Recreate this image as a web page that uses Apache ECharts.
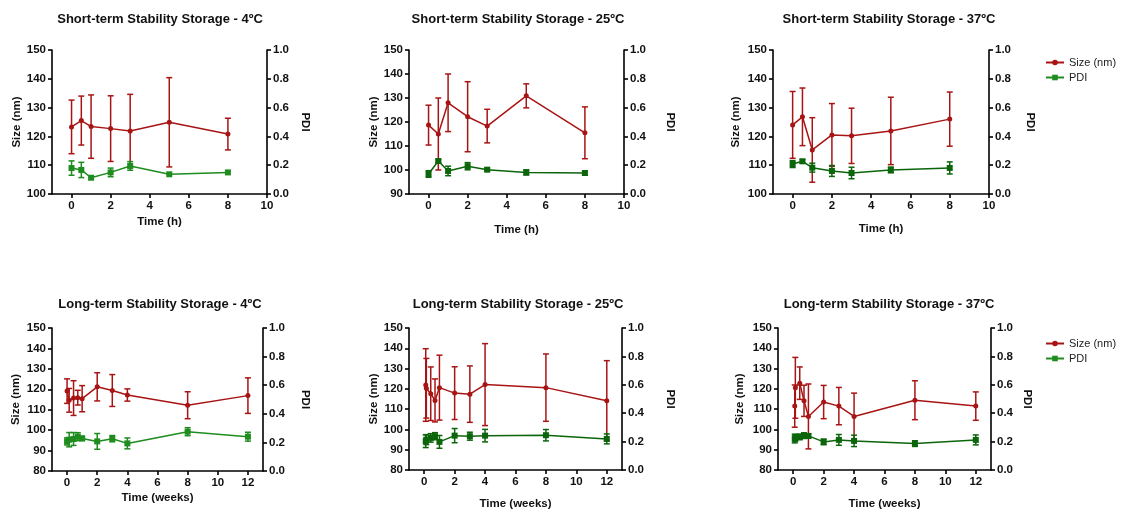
<!DOCTYPE html>
<html><head><meta charset="utf-8">
<script src="https://cdn.jsdelivr.net/npm/echarts@6/dist/echarts.min.js"></script>
<style>html,body{margin:0;padding:0;background:#fff}#c{width:1121px;height:511px}</style>
</head><body><div id="c"></div>
<script>
// ---------- DATA ----------
const titles = [
  'Short-term Stability Storage - 4ºC', 'Short-term Stability Storage - 25ºC', 'Short-term Stability Storage - 37ºC',
  'Long-term Stability Storage - 4ºC', 'Long-term Stability Storage - 25ºC', 'Long-term Stability Storage - 37ºC'
];
const shortTicks = [0, 2, 4, 6, 8, 10];
const longTicks = [0, 2, 4, 6, 8, 10, 12];
const shortTimes = [0, 0.5, 1, 2, 3, 5, 8];
const long4Times = [0, 0.14, 0.43, 0.71, 1, 2, 3, 4, 8, 12];
const long25Times = [0.1, 0.14, 0.43, 0.71, 1, 2, 3, 4, 8, 12];
const long37Times = [0.1, 0.14, 0.43, 0.71, 1, 2, 3, 4, 8, 12];

const short4Size = [123.3, 125.5, 123.4, 122.7, 121.9, 124.9, 120.8];
const short4SizeErr = [9.3, 8.5, 11.0, 11.4, 12.7, 15.5, 5.5];
const short4Pdi = [0.180, 0.167, 0.113, 0.150, 0.195, 0.137, 0.150];
const short4PdiErr = [0.05, 0.053, 0, 0.03, 0.03, 0, 0];

const short25Size = [118.7, 115.0, 128.0, 122.2, 118.3, 130.9, 115.5];
const short25SizeErr = [8.3, 15.0, 12.0, 14.6, 7.0, 5.0, 10.8];
const short25Pdi = [0.139, 0.229, 0.160, 0.193, 0.169, 0.150, 0.146];
const short25PdiErr = [0.023, 0.01, 0.033, 0.025, 0.01, 0.018, 0.015];

const short37Size = [124.0, 126.8, 115.3, 120.5, 120.2, 121.9, 126.0];
const short37SizeErr = [11.6, 10.0, 11.2, 10.9, 9.6, 11.7, 9.4];
const short37Pdi = [0.208, 0.227, 0.183, 0.160, 0.146, 0.167, 0.181];
const short37PdiErr = [0.024, 0.012, 0.031, 0.038, 0.04, 0.02, 0.042];

const long4Size = [119.1, 114.6, 115.7, 115.9, 115.4, 121.2, 119.4, 117.2, 112.2, 116.9];
const long4SizeErr = [6.0, 5.8, 8.5, 3.6, 6.4, 6.9, 7.8, 3.0, 6.6, 8.7];
const long4Pdi = [0.207, 0.219, 0.224, 0.240, 0.228, 0.207, 0.226, 0.193, 0.275, 0.240];
const long4PdiErr = [0.025, 0.05, 0.045, 0.028, 0.015, 0.055, 0.022, 0.038, 0.028, 0.031];

const long25Size = [121.9, 120.3, 117.6, 114.3, 120.6, 117.9, 117.4, 122.1, 120.6, 114.1];
const long25SizeErr = [17.9, 14.7, 13.2, 10.6, 16.0, 13.0, 13.9, 20.2, 16.6, 19.8];
const long25Pdi = [0.203, 0.214, 0.226, 0.238, 0.198, 0.242, 0.238, 0.242, 0.245, 0.219];
const long25PdiErr = [0.045, 0.035, 0.03, 0.025, 0.045, 0.05, 0.028, 0.044, 0.04, 0.035];

const long37Size = [111.5, 120.5, 122.8, 114.1, 106.4, 113.5, 111.5, 106.4, 114.4, 111.5];
const long37SizeErr = [10.4, 15.0, 8.0, 7.7, 16.0, 8.2, 9.2, 11.5, 9.6, 7.0];
const long37Pdi = [0.221, 0.226, 0.233, 0.242, 0.240, 0.198, 0.212, 0.205, 0.186, 0.212];
const long37PdiErr = [0.03, 0.025, 0.02, 0.02, 0.015, 0.02, 0.038, 0.04, 0.02, 0.035];

// ---------- LAYOUT / STYLE ----------
const RED = '#A81414';
const GREEN_L = '#1E8C1E';
const GREEN_D = '#0B650B';
const FONT = '"Liberation Sans", Arial, sans-serif';

const panels = [
  {t: shortTimes, s: short4Size, se: short4SizeErr, p: short4Pdi, pe: short4PdiErr, ticks: shortTicks, xmax: 10, ymin: 100, xname: 'Time (h)', g: {left: 52, top: 50, width: 215, height: 144}, xg: 22, lg: 28, rg: 32, green: GREEN_L, tx: 155, ty: 8},
  {t: shortTimes, s: short25Size, se: short25SizeErr, p: short25Pdi, pe: short25PdiErr, ticks: shortTicks, xmax: 10, ymin: 90, xname: 'Time (h)', g: {left: 409, top: 50, width: 215, height: 144}, xg: 30, lg: 28, rg: 40, green: GREEN_D, tx: 513, ty: 8},
  {t: shortTimes, s: short37Size, se: short37SizeErr, p: short37Pdi, pe: short37PdiErr, ticks: shortTicks, xmax: 10, ymin: 100, xname: 'Time (h)', g: {left: 773, top: 50, width: 216, height: 144}, xg: 29, lg: 31, rg: 35, green: GREEN_D, tx: 884, ty: 8},
  {t: long4Times, s: long4Size, se: long4SizeErr, p: long4Pdi, pe: long4PdiErr, ticks: longTicks, xmax: 13, ymin: 80, xname: 'Time (weeks)', g: {left: 52, top: 328, width: 211, height: 143}, xg: 21, lg: 30, rg: 36, green: GREEN_L, tx: 155, ty: 293},
  {t: long25Times, s: long25Size, se: long25SizeErr, p: long25Pdi, pe: long25PdiErr, ticks: longTicks, xmax: 13, ymin: 80, xname: 'Time (weeks)', g: {left: 409, top: 328, width: 213, height: 143}, xg: 28, lg: 28, rg: 42, green: GREEN_D, tx: 513, ty: 293},
  {t: long37Times, s: long37Size, se: long37SizeErr, p: long37Pdi, pe: long37PdiErr, ticks: longTicks, xmax: 13, ymin: 80, xname: 'Time (weeks)', g: {left: 778, top: 328, width: 213, height: 143}, xg: 28, lg: 32, rg: 30, green: GREEN_D, tx: 884, ty: 293}
];

const axisLine = {show: true, onZero: false, lineStyle: {color: '#000', width: 1.6}};
const axisTick = {show: true, length: 4, lineStyle: {color: '#000', width: 1.6}};
const lbl = {color: '#111', fontSize: 11.5, fontWeight: 'bold', fontFamily: FONT};
const nameStyle = {color: '#111', fontSize: 11.5, fontWeight: 'bold', fontFamily: FONT};

function errRender(color) {
  return function (params, api) {
    const x = api.value(0), y = api.value(1), e = api.value(2);
    if (!(e > 0)) return null;
    const hi = api.coord([x, y + e]);
    const lo = api.coord([x, y - e]);
    const w = 3;
    const st = {stroke: color, lineWidth: 1.5};
    return {type: 'group', children: [
      {type: 'line', shape: {x1: hi[0], y1: hi[1], x2: lo[0], y2: lo[1]}, style: st},
      {type: 'line', shape: {x1: hi[0] - w, y1: hi[1], x2: hi[0] + w, y2: hi[1]}, style: st},
      {type: 'line', shape: {x1: lo[0] - w, y1: lo[1], x2: lo[0] + w, y2: lo[1]}, style: st}
    ]};
  };
}

const option = {
  backgroundColor: '#fff',
  animation: false,
  title: [], grid: [], xAxis: [], yAxis: [], series: [],
  legend: [0, 1].map(i => ({
    data: ['Size (nm)', 'PDI'], orient: 'vertical', left: 1040, top: i === 0 ? 52 : 333,
    itemWidth: 18, itemHeight: 7, itemGap: 4,
    textStyle: {color: '#222', fontSize: 11, fontFamily: FONT}
  }))
};

panels.forEach((P, i) => {
  option.title.push({text: titles[i], left: P.tx, top: P.ty, textAlign: 'center',
    textStyle: {color: '#111', fontSize: 13, fontWeight: 'bold', fontFamily: FONT}});
  option.grid.push(Object.assign({containLabel: false}, P.g));
  option.xAxis.push({type: 'value', gridIndex: i, min: -1, max: P.xmax,
    name: P.xname, nameLocation: 'middle', nameGap: P.xg, nameTextStyle: nameStyle,
    axisLine, splitLine: {show: false},
    axisTick: Object.assign({customValues: P.ticks}, axisTick),
    axisLabel: Object.assign({customValues: P.ticks, margin: 6}, lbl)});
  option.yAxis.push({type: 'value', gridIndex: i, position: 'left', min: P.ymin, max: 150, interval: 10,
    name: 'Size (nm)', nameLocation: 'middle', nameGap: P.lg, nameTextStyle: nameStyle,
    axisLine, axisTick, splitLine: {show: false}, axisLabel: Object.assign({margin: 6}, lbl)});
  option.yAxis.push({type: 'value', gridIndex: i, position: 'right', min: 0, max: 1, interval: 0.2,
    name: 'PDI', nameLocation: 'middle', nameGap: P.rg, nameRotate: -90, nameTextStyle: nameStyle,
    axisLine, axisTick, splitLine: {show: false},
    axisLabel: Object.assign({margin: 6, formatter: v => v.toFixed(1)}, lbl)});
  const ySize = 2 * i, yPdi = 2 * i + 1;
  option.series.push({type: 'custom', name: 'sizeErr', xAxisIndex: i, yAxisIndex: ySize, z: 2,
    renderItem: errRender(RED), encode: {x: 0, y: 1},
    data: P.t.map((t, k) => [t, P.s[k], P.se[k]])});
  option.series.push({type: 'custom', name: 'pdiErr', xAxisIndex: i, yAxisIndex: yPdi, z: 2,
    renderItem: errRender(P.green), encode: {x: 0, y: 1},
    data: P.t.map((t, k) => [t, P.p[k], P.pe[k]])});
  option.series.push({type: 'line', name: 'Size (nm)', xAxisIndex: i, yAxisIndex: ySize, z: 3,
    symbol: 'circle', symbolSize: 5, color: RED, lineStyle: {width: 1.5, color: RED},
    itemStyle: {color: RED}, data: P.t.map((t, k) => [t, P.s[k]])});
  option.series.push({type: 'line', name: 'PDI', xAxisIndex: i, yAxisIndex: yPdi, z: 3,
    symbol: 'rect', symbolSize: 6, color: i === 0 ? GREEN_L : P.green, lineStyle: {width: 1.5, color: P.green},
    itemStyle: {color: P.green}, data: P.t.map((t, k) => [t, P.p[k]])});
});

const chart = echarts.init(document.getElementById('c'), null, {renderer: 'canvas'});
chart.setOption(option);
</script>
</body></html>
